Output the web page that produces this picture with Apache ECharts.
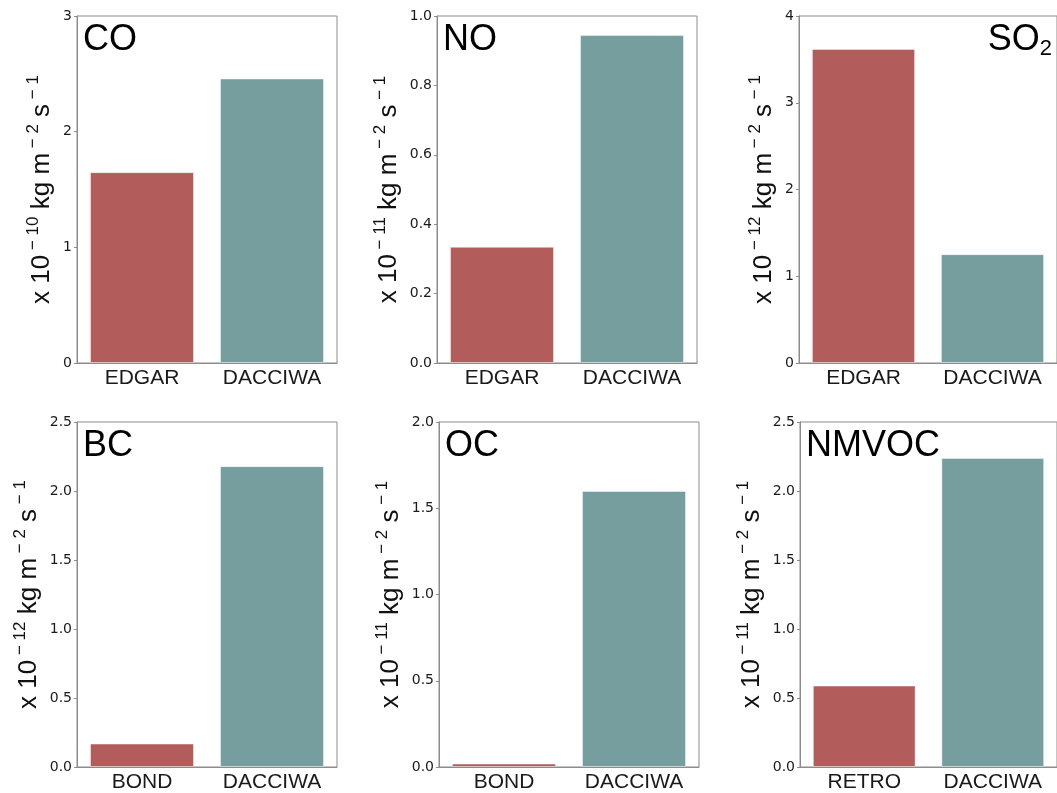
<!DOCTYPE html>
<html>
<head>
<meta charset="utf-8">
<script src="https://cdn.jsdelivr.net/npm/echarts@6/dist/echarts.min.js"></script>
<style>
  html, body { margin: 0; padding: 0; background: #fff; }
  #chart { width: 1057px; height: 793px; }
</style>
</head>
<body>
<div id="chart"></div>
<script>
// Mean emission fluxes per species, two inventories each
const species = ['CO', 'NO', 'SO2', 'BC', 'OC', 'NMVOC'];
const speciesLabels = ['CO', 'NO', 'SO{sub|2}', 'BC', 'OC', 'NMVOC'];
const inventories = [
  ['EDGAR', 'DACCIWA'],
  ['EDGAR', 'DACCIWA'],
  ['EDGAR', 'DACCIWA'],
  ['BOND', 'DACCIWA'],
  ['BOND', 'DACCIWA'],
  ['RETRO', 'DACCIWA']
];
const emissions = [
  [1.65, 2.46],
  [0.335, 0.945],
  [3.62, 1.255],
  [0.17, 2.18],
  [0.02, 1.60],
  [0.59, 2.24]
];
const exponents = ['−10', '−11', '−12', '−12', '−11', '−11'];
const axisMax = [3, 1.0, 4, 2.5, 2.0, 2.5];
const tickStep = [1, 0.2, 1, 0.5, 0.5, 0.5];
const tickDecimals = [0, 1, 0, 1, 1, 1];

const barColors = ['#b35c5c', '#769e9e'];
const frameColor = '#8c8c8c';

// panel boxes: [left, top, width, height]
const boxes = [
  [77, 16, 260, 347],
  [437, 16, 260, 347],
  [799, 16, 260, 347],
  [77, 422, 260, 347],
  [439, 422, 260, 347],
  [800, 422, 260, 347]
];
const nameGaps = [15, 27, 17, 27, 28, 29];

const grid = [], xAxis = [], yAxis = [], series = [], title = [];

species.forEach((sp, i) => {
  const [l, t, w, h] = boxes[i];
  grid.push({
    left: l, top: t, width: w, height: h,
    show: true, borderColor: frameColor, borderWidth: 1, backgroundColor: '#fff'
  });
  xAxis.push({
    type: 'category', gridIndex: i, data: inventories[i],
    axisLine: { lineStyle: { color: frameColor } },
    axisTick: { show: false },
    axisLabel: { color: '#1a1a1a', fontFamily: 'Liberation Sans', fontSize: 21, margin: 5 }
  });
  yAxis.push({
    type: 'value', gridIndex: i, min: 0, max: axisMax[i], interval: tickStep[i],
    axisLine: { show: true, lineStyle: { color: frameColor } },
    axisTick: { show: true, length: 3, lineStyle: { color: frameColor } },
    splitLine: { show: false },
    axisLabel: {
      color: '#1a1a1a', fontFamily: 'DejaVu Sans', fontSize: 14, margin: 5,
      formatter: v => v.toFixed(tickDecimals[i])
    },
    name: 'x 10{s| ' + exponents[i].replace('−', '− ') + '} kg m{s| − 2} s{s| − 1}',
    nameLocation: 'middle',
    nameGap: nameGaps[i],
    nameRotate: 90,
    nameTextStyle: {
      color: '#111', fontFamily: 'Liberation Sans', fontSize: 26, lineHeight: 34,
      rich: {
        s: { fontFamily: 'Liberation Sans', fontSize: 17, lineHeight: 16, verticalAlign: 'top', color: '#111' }
      }
    }
  });
  series.push({
    type: 'bar', xAxisIndex: i, yAxisIndex: i,
    barCategoryGap: '20%',
    data: emissions[i].map((v, k) => ({
      value: v,
      itemStyle: { color: barColors[k], borderColor: 'rgba(255,255,255,0.45)', borderWidth: 1 }
    }))
  });
  const hasSub = sp === 'SO2';
  const tt = {
    text: speciesLabels[i],
    top: hasSub ? t + 4 : t + 6,
    padding: 0,
    textStyle: {
      fontFamily: 'Liberation Sans', fontSize: 36, fontWeight: 'normal', color: '#000',
      lineHeight: hasSub ? 40 : 36,
      rich: { sub: { fontFamily: 'Liberation Sans', fontSize: 22, verticalAlign: 'bottom', lineHeight: 6, color: '#000' } }
    }
  };
  if (hasSub) tt.right = 1057 - 1052; else tt.left = l + 6;
  title.push(tt);
});

const chart = echarts.init(document.getElementById('chart'), null, { renderer: 'canvas' });
chart.setOption({ animation: false, backgroundColor: '#fff', title, grid, xAxis, yAxis, series });
</script>
</body>
</html>
